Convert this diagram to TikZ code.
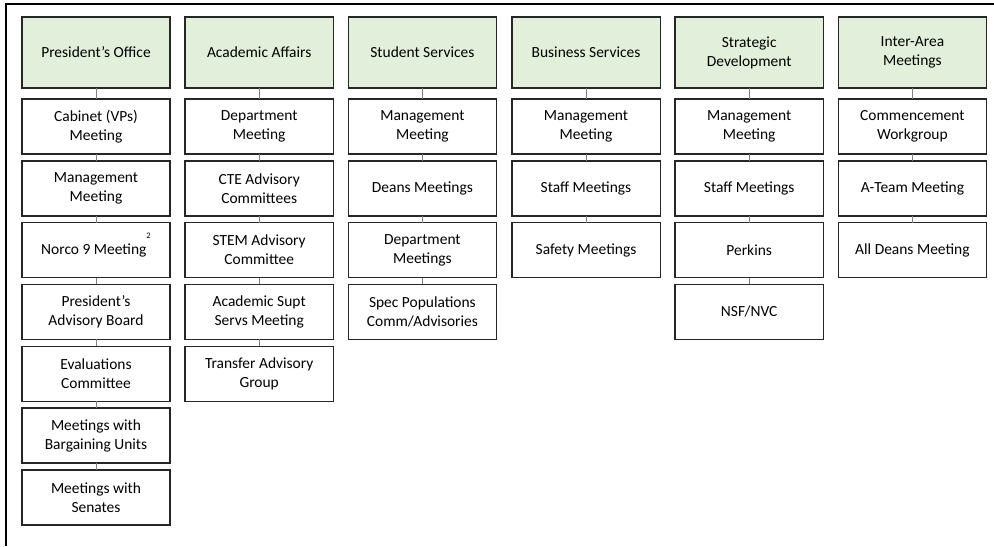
\documentclass[tikz,border=0pt]{standalone}
\usepackage{fontspec}
\setmainfont{Carlito}
\usepackage{tikz}
\usetikzlibrary{positioning}
\definecolor{headgreen}{HTML}{E2EFDA}
\definecolor{linkgray}{HTML}{7F7F7F}

\begin{document}
\begin{tikzpicture}[
  area/.style={draw=black!85, line width=1pt, fill=headgreen, minimum width=37.1mm,
    minimum height=17.75mm, align=center, outer sep=0pt, inner sep=1mm,
    font=\fontsize{11}{13.5}\selectfont},
  mtg/.style={area, fill=white, minimum height=13.75mm},
  link/.style={draw=linkgray, line width=0.7pt},
  node distance=1.7mm
]
\useasboundingbox (0mm,0mm) rectangle (248.5mm,-136.5mm);
\draw[line width=1.4pt] (1.5mm,-136.5mm) -- (1.5mm,-1mm) -- (248.5mm,-1mm);

\node[area] (Pres) at (24mm,-13.125mm) {President's Office};
\node[mtg, below=2.75mm of Pres] (Pres1) {Cabinet (VPs)\\Meeting};
\node[mtg, below=of Pres1] (Pres2) {Management\\Meeting};
\node[mtg, below=of Pres2] (Pres3) {Norco 9 Meeting\smash{\raisebox{11pt}{\fontsize{6}{7}\selectfont 2}}};
\node[mtg, below=of Pres3] (Pres4) {President's\\Advisory Board};
\node[mtg, below=of Pres4] (Pres5) {Evaluations\\Committee};
\node[mtg, below=of Pres5] (Pres6) {Meetings with\\Bargaining Units};
\node[mtg, below=of Pres6] (Pres7) {Meetings with\\Senates};
\draw[link] (Pres) -- (Pres1) (Pres1) -- (Pres2) (Pres2) -- (Pres3) (Pres3) -- (Pres4)
  (Pres4) -- (Pres5) (Pres5) -- (Pres6) (Pres6) -- (Pres7);

\node[area] (Acad) at (64.8mm,-13.125mm) {Academic Affairs};
\node[mtg, below=2.75mm of Acad] (Acad1) {Department\\Meeting};
\node[mtg, below=of Acad1] (Acad2) {CTE Advisory\\Committees};
\node[mtg, below=of Acad2] (Acad3) {STEM Advisory\\Committee};
\node[mtg, below=of Acad3] (Acad4) {Academic Supt\\Servs Meeting};
\node[mtg, below=of Acad4] (Acad5) {Transfer Advisory\\Group};
\draw[link] (Acad) -- (Acad1) (Acad1) -- (Acad2) (Acad2) -- (Acad3) (Acad3) -- (Acad4)
  (Acad4) -- (Acad5);

\node[area] (Stud) at (105.6mm,-13.125mm) {Student Services};
\node[mtg, below=2.75mm of Stud] (Stud1) {Management\\Meeting};
\node[mtg, below=of Stud1] (Stud2) {Deans Meetings};
\node[mtg, below=of Stud2] (Stud3) {Department\\Meetings};
\node[mtg, below=of Stud3] (Stud4) {Spec Populations\\Comm/Advisories};
\draw[link] (Stud) -- (Stud1) (Stud1) -- (Stud2) (Stud2) -- (Stud3) (Stud3) -- (Stud4);

\node[area] (Busi) at (146.5mm,-13.125mm) {Business Services};
\node[mtg, below=2.75mm of Busi] (Busi1) {Management\\Meeting};
\node[mtg, below=of Busi1] (Busi2) {Staff Meetings};
\node[mtg, below=of Busi2] (Busi3) {Safety Meetings};
\draw[link] (Busi) -- (Busi1) (Busi1) -- (Busi2) (Busi2) -- (Busi3);

\node[area] (Strat) at (187.3mm,-13.125mm) {Strategic\\Development};
\node[mtg, below=2.75mm of Strat] (Strat1) {Management\\Meeting};
\node[mtg, below=of Strat1] (Strat2) {Staff Meetings};
\node[mtg, below=of Strat2] (Strat3) {Perkins};
\node[mtg, below=of Strat3] (Strat4) {NSF/NVC};
\draw[link] (Strat) -- (Strat1) (Strat1) -- (Strat2) (Strat2) -- (Strat3) (Strat3) -- (Strat4);

\node[area] (Inter) at (228.1mm,-13.125mm) {Inter-Area\\Meetings};
\node[mtg, below=2.75mm of Inter] (Inter1) {Commencement\\Workgroup};
\node[mtg, below=of Inter1] (Inter2) {A-Team Meeting};
\node[mtg, below=of Inter2] (Inter3) {All Deans Meeting};
\draw[link] (Inter) -- (Inter1) (Inter1) -- (Inter2) (Inter2) -- (Inter3);

\end{tikzpicture}
\end{document}
